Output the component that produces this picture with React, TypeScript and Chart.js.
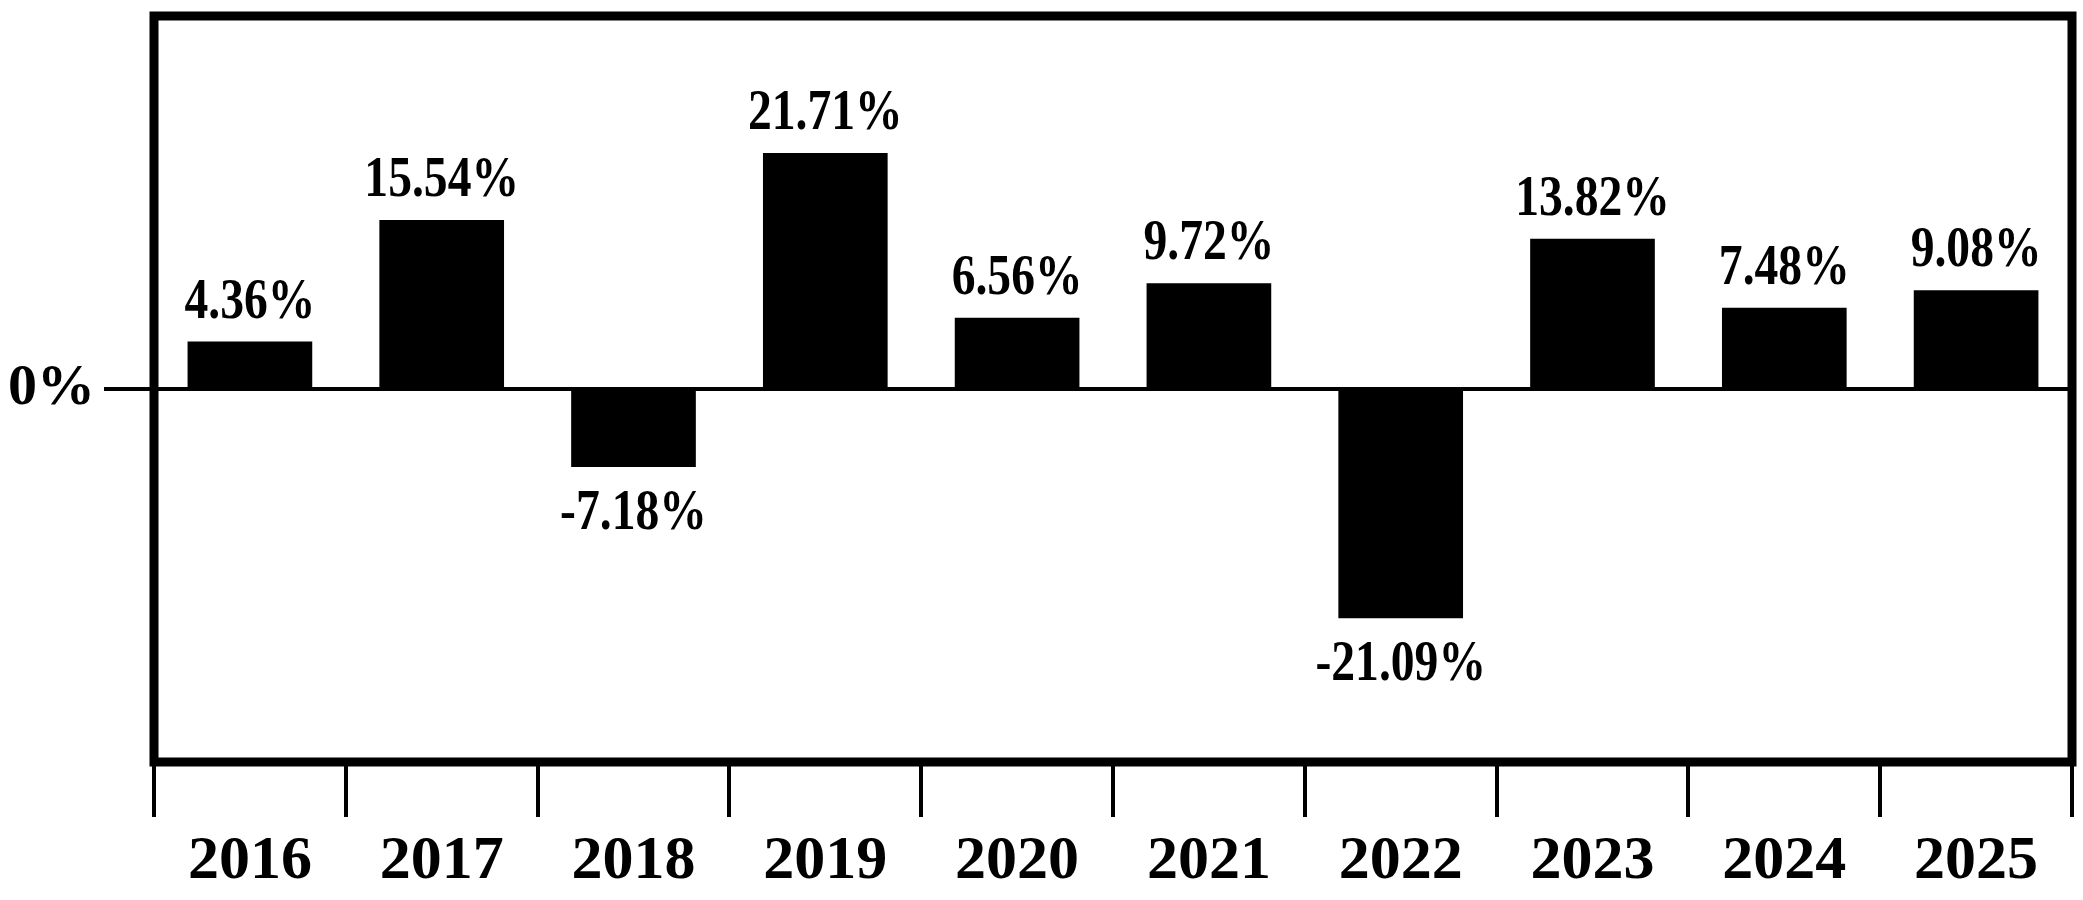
import React, { useEffect, useRef } from "react";
import { Chart, registerables } from "chart.js";

Chart.register(...registerables);

const years = ["2016", "2017", "2018", "2019", "2020", "2021", "2022", "2023", "2024", "2025"];
const annualReturns = [4.36, 15.54, -7.18, 21.71, 6.56, 9.72, -21.09, 13.82, 7.48, 9.08];
const yTickValues = [0];

const FONT = '"Liberation Serif", "Times New Roman", serif';

const frameAndLabels = {
  id: "frameAndLabels",
  afterDatasetsDraw(chart: any) {
    const { ctx } = chart;
    const meta = chart.getDatasetMeta(0);
    meta.data.forEach((bar: any, i: number) => {
      const v = annualReturns[i];
      const text = v.toFixed(2) + "%";
      const y = v >= 0 ? bar.y - 24 : bar.y + 62;
      ctx.save();
      ctx.fillStyle = "#000";
      ctx.font = `bold 56px ${FONT}`;
      ctx.textAlign = "center";
      ctx.textBaseline = "alphabetic";
      ctx.translate(bar.x, y);
      ctx.scale(0.85, 1);
      ctx.fillText(text, 0, 0);
      ctx.restore();
    });
  },
  afterDraw(chart: any) {
    const { ctx, chartArea } = chart;
    ctx.save();
    ctx.strokeStyle = "#000";
    ctx.lineWidth = 9;
    ctx.strokeRect(
      chartArea.left,
      chartArea.top,
      chartArea.right - chartArea.left,
      chartArea.bottom - chartArea.top
    );
    ctx.restore();
  },
};

export default function App() {
  const ref = useRef<HTMLCanvasElement | null>(null);
  useEffect(() => {
    if (!ref.current) return;
    const chart = new Chart(ref.current, {
      type: "bar",
      data: {
        labels: years,
        datasets: [
          {
            data: annualReturns,
            backgroundColor: "#000",
            borderWidth: 0,
            barPercentage: 0.65,
            categoryPercentage: 1,
          },
        ],
      },
      options: {
        animation: false,
        responsive: true,
        maintainAspectRatio: false,
        layout: { padding: { top: 16, right: 11, left: 0, bottom: 0 } },
        plugins: { legend: { display: false }, tooltip: { enabled: false } },
        scales: {
          x: {
            grid: {
              offset: true,
              drawOnChartArea: false,
              drawTicks: true,
              tickLength: 55,
              lineWidth: 4,
              color: "#000",
            },
            border: { display: false },
            ticks: {
              color: "#000",
              font: { family: FONT, size: 62, weight: "bold" },
              padding: 8,
              maxRotation: 0,
            },
            afterFit(scale: any) {
              scale.height = 138;
              scale.paddingLeft = 0;
              scale.paddingRight = 0;
            },
          },
          y: {
            min: -34.3,
            max: 34.3,
            grid: {
              drawOnChartArea: true,
              drawTicks: true,
              tickLength: 50,
              lineWidth: 4,
              color: "#000",
            },
            border: { display: false },
            afterBuildTicks(scale: any) {
              scale.ticks = yTickValues.map((v) => ({ value: v }));
            },
            ticks: {
              color: "#000",
              font: { family: FONT, size: 58, weight: "bold" },
              padding: 9,
              callback: (v: any) => v + "%",
            },
            afterFit(scale: any) {
              scale.width = 154;
              scale.paddingTop = 0;
              scale.paddingBottom = 0;
            },
          },
        },
      },
      plugins: [frameAndLabels],
    });
    return () => chart.destroy();
  }, []);
  return (
    <div style={{ position: "fixed", left: 0, top: 0, width: 2083, height: 900, background: "#fff" }}>
      <canvas ref={ref} />
    </div>
  );
}
